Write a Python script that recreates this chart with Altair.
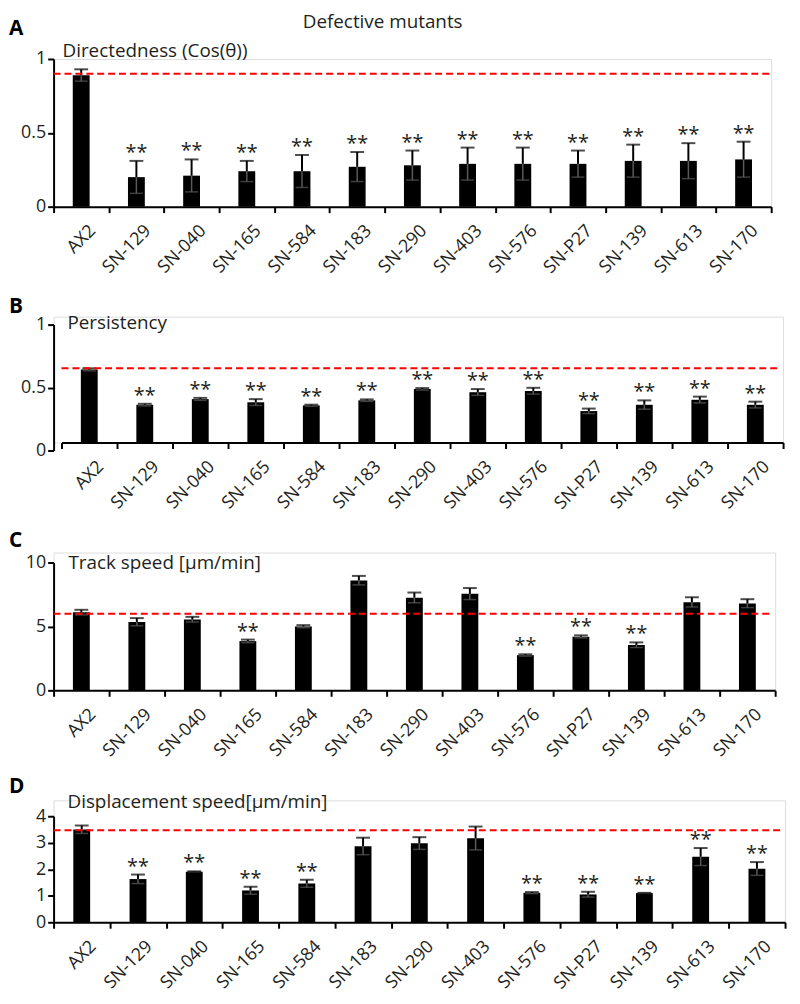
import altair as alt
import pandas as pd

categories = ["AX2", "SN-129", "SN-040", "SN-165", "SN-584", "SN-183", "SN-290",
              "SN-403", "SN-576", "SN-P27", "SN-139", "SN-613", "SN-170"]

dir_mean = [0.89, 0.20, 0.21, 0.24, 0.24, 0.27, 0.28, 0.29, 0.29, 0.29, 0.31, 0.31, 0.32]
dir_err = [0.04, 0.11, 0.11, 0.07, 0.11, 0.10, 0.10, 0.11, 0.11, 0.09, 0.11, 0.12, 0.12]
dir_sig = ["", "**", "**", "**", "**", "**", "**", "**", "**", "**", "**", "**", "**"]
dir_ref = 0.9

per_mean = [0.58, 0.30, 0.345, 0.32, 0.295, 0.335, 0.425, 0.40, 0.41, 0.25, 0.30, 0.34, 0.30]
per_err = [0.01, 0.008, 0.01, 0.025, 0.006, 0.008, 0.008, 0.025, 0.025, 0.02, 0.035, 0.025, 0.025]
per_sig = ["", "**", "**", "**", "**", "**", "**", "**", "**", "**", "**", "**", "**"]
per_ref = 0.59

spd_mean = [6.1, 5.35, 5.55, 3.85, 5.0, 8.6, 7.25, 7.55, 2.75, 4.2, 3.55, 6.9, 6.8]
spd_err = [0.2, 0.3, 0.2, 0.12, 0.1, 0.35, 0.4, 0.45, 0.07, 0.1, 0.2, 0.38, 0.33]
spd_sig = ["", "", "", "**", "", "", "", "", "**", "**", "**", "", ""]
spd_ref = 6.0

dsp_mean = [3.5, 1.63, 1.91, 1.2, 1.46, 2.87, 2.98, 3.17, 1.11, 1.05, 1.1, 2.47, 2.02]
dsp_err = [0.15, 0.17, 0.01, 0.14, 0.14, 0.32, 0.23, 0.44, 0.03, 0.1, 0.01, 0.33, 0.25]
dsp_sig = ["", "**", "**", "**", "**", "", "", "", "**", "**", "**", "**", "**"]
dsp_ref = 3.47

FONT = "Open Sans"
TXT = "#231f20"


def panel(means, errs, sig, ref, ymax, yticks, x0, pw, top, ph,
          letter, letter_y, ptitle, ptitle_x, ptitle_y, extra=None):
    df = pd.DataFrame({
        "cat": categories,
        "mean": means,
        "hi": [m + e for m, e in zip(means, errs)],
        "lo": [m - e for m, e in zip(means, errs)],
        "sig": sig,
    })
    H = top + ph
    xs = alt.Scale(domain=categories, range=[x0, x0 + pw], paddingInner=0, paddingOuter=0)
    ys = alt.Scale(domain=[0, ymax], range=[H, top], nice=False, zero=True)
    xax = alt.Axis(title=None, labelAngle=-45, labelFont=FONT, labelFontSize=18,
                   labelColor=TXT, tickBand="extent", tickSize=6, tickWidth=2,
                   tickColor="black", domainColor="black", domainWidth=2,
                   labelPadding=9, labelOffset=5, grid=False)
    yax = alt.Axis(title=None, values=yticks, format="~r", labelFont=FONT,
                   labelFontSize=18, labelColor=TXT, tickSize=6, tickWidth=2,
                   tickColor="black", domainColor="black", domainWidth=2,
                   labelPadding=2, grid=False, position=x0)
    X = alt.X("cat:N", sort=categories, scale=xs, axis=xax)

    def Y(f):
        return alt.Y(f, scale=ys, axis=yax)

    base = alt.Chart(df)
    bars = base.mark_bar(size=17, color="black").encode(x=X, y=Y("mean:Q"))
    lo_rule = base.mark_rule(color="#5a5a5a", strokeWidth=1.5).encode(x=X, y=Y("lo:Q"), y2="mean:Q")
    lo_cap = base.mark_tick(color="#5a5a5a", size=13, thickness=1.5, orient="horizontal").encode(x=X, y=Y("lo:Q"))
    hi_rule = base.mark_rule(color="black", strokeWidth=2).encode(x=X, y=Y("mean:Q"), y2="hi:Q")
    hi_cap = base.mark_tick(color="black", size=14, thickness=2, orient="horizontal").encode(x=X, y=Y("hi:Q"))
    stars = base.mark_text(font=FONT, fontSize=20, color=TXT, baseline="alphabetic",
                           align="center", dy=-2).encode(x=X, y=Y("hi:Q"), text="sig:N")
    refline = alt.Chart(pd.DataFrame({"ref": [ref]})).mark_rule(
        color="#ff0000", strokeWidth=2, strokeDash=[7, 4]
    ).encode(y=Y("ref:Q"), x=alt.value(x0), x2=alt.value(x0 + pw - 2))

    let_txt = alt.Chart(pd.DataFrame({"t": [letter]})).mark_text(
        font=FONT, fontSize=21, fontWeight="bold", color="black", align="left",
        baseline="alphabetic").encode(text="t:N", x=alt.value(-45), y=alt.value(letter_y))
    ttl_txt = alt.Chart(pd.DataFrame({"t": [ptitle]})).mark_text(
        font=FONT, fontSize=19, color=TXT, align="left",
        baseline="alphabetic").encode(text="t:N", x=alt.value(ptitle_x), y=alt.value(ptitle_y))
    layers = [bars, lo_rule, lo_cap, hi_rule, hi_cap, stars, refline, let_txt, ttl_txt]
    if extra is not None:
        layers.append(extra)
    return alt.layer(*layers).properties(width=x0 + pw, height=H)


main_title = alt.Chart(pd.DataFrame({"t": ["Defective mutants"]})).mark_text(
    font=FONT, fontSize=19, color=TXT, align="center", baseline="alphabetic"
).encode(text="t:N", x=alt.value(332), y=alt.value(-31))

pA = panel(dir_mean, dir_err, dir_sig, dir_ref, 1, [0, 0.5, 1], 0, 724, 0, 149,
           "A", -24, "Directedness (Cos(θ))", 9, -2, extra=main_title)
pB = panel(per_mean, per_err, per_sig, per_ref, 1, [0, 0.5, 1], 8, 728, 0, 127,
           "B", -4, "Persistency", 14, 12)
pC = panel(spd_mean, spd_err, spd_sig, spd_ref, 10, [0, 5, 10], 0, 728, 10, 129,
           "C", -6, "Track speed [µm/min]", 15, 17)
pD = panel(dsp_mean, dsp_err, dsp_sig, dsp_ref, 4, [0, 1, 2, 3, 4], 0, 738, 16, 107,
           "D", -7, "Displacement speed[µm/min]", 14, 8)

chart = alt.vconcat(pA, pB, pC, pD, spacing=111, bounds="flush").properties(
    padding={"top": 0, "left": 0, "right": 5, "bottom": 5}
).configure_view(strokeOpacity=0).configure(background="white")

chart.save("out.html", embed_options={"renderer": "svg", "actions": False})
